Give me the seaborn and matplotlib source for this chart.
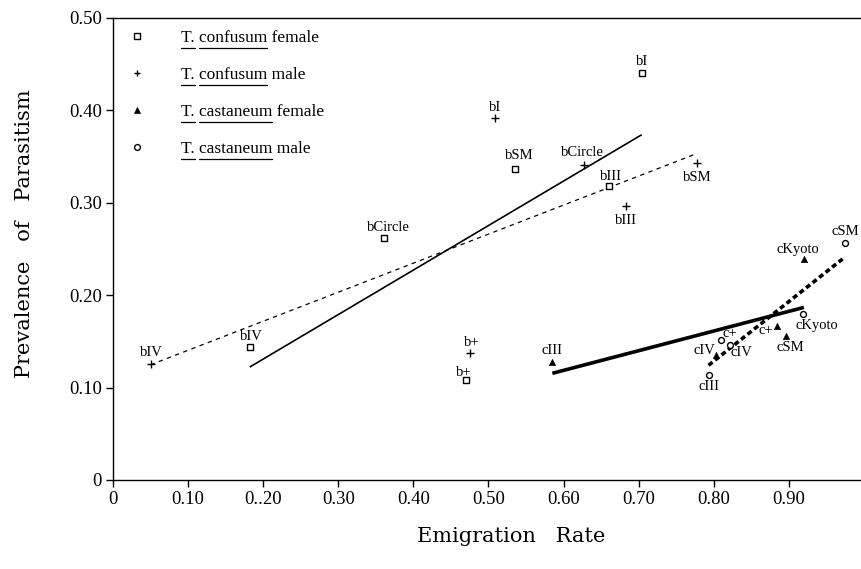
import matplotlib
matplotlib.use("Agg")
import matplotlib.pyplot as plt
from matplotlib.lines import Line2D
import numpy as np
import pandas as pd
import seaborn as sns

# ---------------- data ----------------
cf_labels = ["bI", "bSM", "bIII", "bCircle", "bIV", "b+"]          # T. confusum female
cf_x = [0.704, 0.535, 0.660, 0.361, 0.182, 0.470]
cf_y = [0.441, 0.337, 0.318, 0.262, 0.144, 0.108]

cm_labels = ["bI", "bCircle", "bSM", "bIII", "bIV", "b+"]          # T. confusum male
cm_x = [0.509, 0.627, 0.777, 0.683, 0.050, 0.476]
cm_y = [0.392, 0.341, 0.343, 0.296, 0.126, 0.137]

caf_labels = ["cKyoto", "cSM", "c+", "cIV", "cIII"]               # T. castaneum female
caf_x = [0.920, 0.896, 0.884, 0.803, 0.585]
caf_y = [0.239, 0.156, 0.167, 0.135, 0.128]

cam_labels = ["cSM", "cKyoto", "c+", "cIV", "cIII"]               # T. castaneum male
cam_x = [0.975, 0.919, 0.810, 0.822, 0.793]
cam_y = [0.257, 0.180, 0.152, 0.146, 0.114]

x_ticks = [0, 0.1, 0.2, 0.3, 0.4, 0.5, 0.6, 0.7, 0.8, 0.9, 1.0]
x_ticklabels = ["0", "0.10", "0..20", "0.30", "0.40", "0.50", "0.60", "0.70", "0.80", "0.90", "1"]
y_ticks = [0, 0.1, 0.2, 0.3, 0.4, 0.5]
y_ticklabels = ["0", "0.10", "0.20", "0.30", "0.40", "0.50"]

legend_species = ["confusum", "confusum", "castaneum", "castaneum"]
legend_sex = ["female", "male", "female", "male"]

# label offsets (pixels) for the point annotations
cf_off = [(0, 11), (5, 13), (2, 10), (4, 10), (2, 10), (-2, 8)]
cm_off = [(0, 10), (-1, 12), (1, -14), (0, -14), (1, 11), (1, 11)]
caf_off = [(-6, 10), (4, -12), (-11, -5), (-12, 5), (0, 11)]
cam_off = [(0, 11), (14, -12), (9, 6), (11, -7), (0, -12)]

# ---------------- style ----------------
sns.set_theme(style="ticks")
plt.rcParams["font.family"] = ["Liberation Serif", "DejaVu Serif"]
plt.rcParams["axes.linewidth"] = 1.0
plt.rcParams["xtick.major.width"] = 1.0
plt.rcParams["ytick.major.width"] = 1.0

W, H = 862, 569
fig = plt.figure(figsize=(W / 100, H / 100), dpi=100)
fig.patch.set_facecolor("white")
ax_l, ax_r, ax_t, ax_b = 113, 864, 18, 480
ax = fig.add_axes([ax_l / W, (H - ax_b) / H, (ax_r - ax_l) / W, (ax_b - ax_t) / H])
ax.set_facecolor("white")

groups = [
    dict(x=cf_x, y=cf_y, labels=cf_labels, off=cf_off, marker="s", s=20, fc="white", ec="black", lw=1.0,
         line=dict(color="black", lw=1.2, ls="-")),
    dict(x=cm_x, y=cm_y, labels=cm_labels, off=cm_off, marker="+", s=28, fc="black", ec="black", lw=1.0,
         line=dict(color="black", lw=0.9, ls=(0, (3.5, 3.5)))),
    dict(x=caf_x, y=caf_y, labels=caf_labels, off=caf_off, marker="^", s=20, fc="black", ec="black", lw=0.5,
         line=dict(color="black", lw=2.6, ls="-")),
    dict(x=cam_x, y=cam_y, labels=cam_labels, off=cam_off, marker="o", s=18, fc="white", ec="black", lw=1.0,
         line=dict(color="black", lw=2.6, ls=(0, (1.4, 0.9)))),
]

for g in groups:
    df = pd.DataFrame({"x": g["x"], "y": g["y"]})
    sns.regplot(data=df, x="x", y="y", ax=ax, ci=None, scatter=False, truncate=True,
                line_kws=dict(color=g["line"]["color"], lw=g["line"]["lw"], ls=g["line"]["ls"],
                              solid_capstyle="butt", dash_capstyle="butt"))
for g in groups:
    df = pd.DataFrame({"x": g["x"], "y": g["y"]})
    if g["marker"] == "+":
        sns.scatterplot(data=df, x="x", y="y", ax=ax, marker="+", s=g["s"], color="black",
                        linewidth=g["lw"], zorder=5, legend=False)
    else:
        sns.scatterplot(data=df, x="x", y="y", ax=ax, marker=g["marker"], s=g["s"],
                        facecolor=g["fc"], edgecolor=g["ec"], linewidth=g["lw"], zorder=5, legend=False)
    for xi, yi, lab, (dx, dy) in zip(g["x"], g["y"], g["labels"], g["off"]):
        ax.annotate(lab, (xi, yi), xytext=(dx, dy), textcoords="offset pixels",
                    ha="center", va="center", fontsize=10.5, color="black", zorder=6)

ax.set_xlim(0, 1.0)
ax.set_ylim(0, 0.5)
ax.set_xticks(x_ticks)
ax.set_xticklabels(x_ticklabels)
ax.set_yticks(y_ticks)
ax.set_yticklabels(y_ticklabels)
ax.tick_params(axis="both", direction="out", length=5, labelsize=13.5, colors="black", pad=3)
ax.set_xlabel("")
ax.set_ylabel("")
for sp in ["left", "bottom", "top", "right"]:
    ax.spines[sp].set_visible(True)
    ax.spines[sp].set_color("black")
    ax.spines[sp].set_linewidth(1.0)

# axis titles
fig.text(511 / W, 1 - 536 / H, "Emigration   Rate", family="DejaVu Serif", fontsize=15,
         ha="center", va="center", color="black")
fig.text(25 / W, 1 - 234 / H, "Prevalence   of   Parasitism", family="DejaVu Serif", fontsize=15,
         ha="center", va="center", rotation=90, color="black")

# legend (manual, with underlined species names)
leg_rows_px = [36, 73, 110, 147]
leg_markers = [dict(marker="s", ms=4, mfc="white", mec="black", mew=1.0),
               dict(marker="+", ms=5, mfc="black", mec="black", mew=1.0),
               dict(marker="^", ms=4.5, mfc="black", mec="black", mew=0.5),
               dict(marker="o", ms=4.2, mfc="white", mec="black", mew=1.0)]
leg_texts = []
for py, mk, sp, sx in zip(leg_rows_px, leg_markers, legend_species, legend_sex):
    yf = 1 - py / H
    fig.add_artist(Line2D([137 / W], [yf], linestyle="none", **mk))
    t = fig.text(181 / W, yf, f"T. {sp} {sx}", fontsize=12.5, ha="left", va="center_baseline",
                 color="black")
    leg_texts.append((t, sp))

fig.canvas.draw()
renderer = fig.canvas.get_renderer()
for t, sp in leg_texts:
    prop = t.get_fontproperties()
    bb = t.get_window_extent(renderer)
    _, _, d = renderer.get_text_width_height_descent(t.get_text(), prop, ismath=False)
    base = bb.y0 + d
    def width(s):
        w, _, _ = renderer.get_text_width_height_descent(s, prop, ismath=False)
        return w
    x0 = bb.x0
    uy = (base - 2) / H
    fig.add_artist(Line2D([x0 / W, (x0 + width("T.")) / W], [uy, uy], color="black", lw=0.9))
    fig.add_artist(Line2D([(x0 + width("T. ")) / W, (x0 + width("T. " + sp)) / W], [uy, uy],
                          color="black", lw=0.9))

fig.savefig("out.png", dpi=100, facecolor="white")
